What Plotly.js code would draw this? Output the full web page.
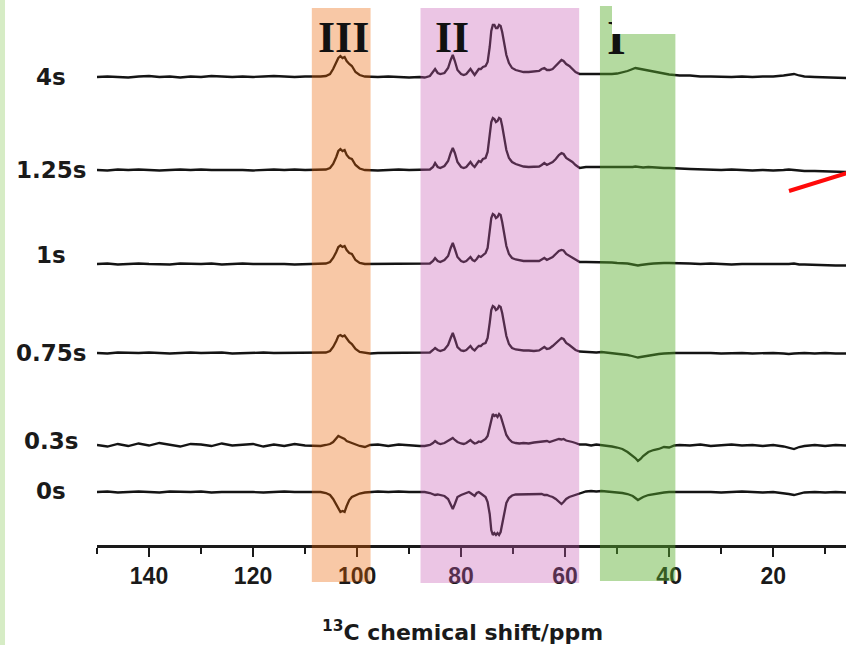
<!DOCTYPE html>
<html>
<head>
<meta charset="utf-8">
<script src="https://cdn.plot.ly/plotly-3.0.1.min.js"></script>
<style>
  html, body { margin: 0; padding: 0; background: #ffffff; }
  #chart { width: 846px; height: 645px; }
</style>
</head>
<body>
<div id="chart"></div>
<script>
// 13C chemical shift grid (ppm), denser where the resonances sit
const shiftPpm = [
  150,148,146,144,142,140,138,136,134,132,130,128,126,124,122,120,118,116,114,112,110,108,
  107,106,105.2,104.6,104,103.6,103.2,102.8,102.4,102,101.5,101,100.3,99.5,98.5,97.5,
  96,94,92,90,88,
  87,86,85.4,85,84.5,84,83.2,82.5,82,81.6,
  81.2,80.7,80,79.5,79,78.5,78.2,77.8,77.4,77,
  76.6,76.2,75.8,75.3,74.9,74.5,74.2,73.9,73.6,73.3,
  73.0,72.7,72.4,72.1,71.7,71.3,70.8,70.2,69.5,68.8,
  68,67,66,65,64.5,64,63.5,63,62.4,61.8,
  61.2,60.7,60.3,59.8,59.2,58.6,58,57.2,
  56,55,54,53,52,51,50,49,48,47.5,47,46.5,46,45.5,45,44,43,42,41,40,39,38,
  36,34,32,30,28,26,24,22,20,18,17,16,15,14,12,10,8,6
];

// contact / delay times, top to bottom
const delays = ['4s', '1.25s', '1s', '0.75s', '0.3s', '0s'];

// signal intensity per delay (arbitrary units)
const spec4s = [
  0,0.5,0,-0.5,0.5,1,0,0.5,-0.5,0.5,0,1,0.5,0,0.5,0,0.5,1,0.5,0,0.5,0,
  0.5,1,3,8,15,19,21,19,20,16,13,11,5,2,0.5,0,
  0,0.5,0,-0.5,0,
  -0.5,1,5,8,4,3,4,9,17,22,
  16,7,3,2,3,6,8,5,2,5,
  8,8,10,11,15,30,46,52,52,49,
  49,52,51,45,32,22,14,9,7,6,
  5,5,5.5,6,8,9,7,7,8,11,
  15,17,16,13,11,8,5,3,
  3,3,2.5,3,3,3,3.5,4.5,6,7,8,9,8.5,8,7,6.5,5,4,3,2.5,2,1.5,
  1.5,0.5,0.5,0,0,0.5,0,0.5,0.5,1.5,2.5,3,1.5,0.5,0,-0.5,-0.5,-1
];
const spec125s = [
  0,-0.5,0.5,0,0.5,0,-0.5,0,0.5,0,0.5,0,0,0.5,0,-0.5,0,0.5,0,0.5,0,0,
  0,0.5,2,6,13,19,21,19,20,15,12,11,5,1.5,0,-0.5,
  -0.5,0,0.5,0,0,
  0,0.5,3,7,3,2,4,9,17,22,
  17,8,3,2,3,6,8,5,3,6,
  9,8,11,12,18,35,48,52,51,48,
  49,52,51,44,30,20,12,8,6,4.5,
  3.5,3,3,3.5,5,7,5,6,8,11,
  15,17,16,12,10,8,5,2,
  3,3,3,2.5,3,3,2.5,3,3,2.5,3,3.5,3,3,2.5,3,2.5,2.5,2,2,2,1.5,
  1,0.5,0.5,0,0.5,0,-0.5,0,-0.5,0,0.5,0,-0.5,-1,-1,-1.5,-1.5,-2
];
const spec1s = [
  0,0.5,-0.5,0,0.5,0,0,-0.5,0.5,0,0,0.5,-0.5,0,0.5,0,0,0.5,0,-0.5,0,0,
  0,0.5,2,6,12,17,18.5,17,18,14,11,10,4,1,0,0,
  0,0.5,0,0,0,
  0,0.5,3,6,3,2,4,8,16,21,
  15,7,3,2,3,6,7,4,3,5,
  8,7,9,11,16,33,46,50,49,46,
  47,50,49,42,28,18,10,6,4.5,3.5,
  3,3,3,3,4.5,6,4,5,7,10,
  13,14,13.5,10,8,6,4,2,
  2,2,1.5,2,1.5,1.5,1,1,0.5,0,-0.5,-1,-1.5,-1,-0.5,0,0.5,1,1,1,1,0.5,
  0.5,0,0.5,0,-0.5,0,0,-0.5,0,-0.5,0,0.5,-0.5,-0.5,-1,-1,-1.5,-1.5
];
const spec075s = [
  0,-0.5,0.5,0,0,0.5,0,-0.5,0,0.5,0,0,0.5,-0.5,0,0,0.5,0,0,0.5,0,0,
  0,0.5,2,6,12,17,18,16.5,17.5,14,11,9,4,1,0,-0.5,
  0,0,0.5,0,0,
  0,0.5,3,5,3,2,3.5,8,15,20,
  14,6,2.5,2,3,5,7,4,2.5,5,
  7,7,9,10,15,30,43,47,46,43,
  44,47,46,40,27,17,9,5,3.5,3,
  2.5,2.5,2,2.5,4,6,4,4.5,7,10,
  13.5,15,14,10,8,5.5,3,1.5,
  1,1,0.5,1,0.5,0,-0.5,-1,-2,-2.5,-3,-3.5,-4.5,-4,-3.5,-2.5,-2,-1,-0.5,0,0,0,
  0,0.5,0,-0.5,0,0,-0.5,0,0,-0.5,-1,-0.5,0,0,-0.5,0,-0.5,-0.5
];
const spec03s = [
  0,-1.5,1,-1,1.5,-0.5,2,0,-1.5,1,0.5,-1,1.5,-0.5,0.5,1,-1.5,0.5,-1,1,-0.5,-1,
  -1,0,1,3,6,9,8,7,6,4,3,2,1,-1,-2,0,
  0.5,-1,0.5,-0.5,-1,
  -1,0,2,4,2,1,2,4,6,7,
  5,3,1.5,1,2,4,5,3,1.5,2,
  3.5,3,4,6,9,18,27,31,29,30,
  28,31,29,24,17,10,6,3,2,1.5,
  2,1.5,2.5,3,4,3.5,4,3,4,5,
  6,5.5,6,4.5,4,3,2,0.5,
  0.5,-0.5,0.5,0,-1,-1.5,-2.5,-4,-7,-9,-11,-13,-16,-14,-11,-7,-5,-4,-2,-2.5,-0.5,0,
  -0.5,0.5,-1,0,0.5,-0.5,0,-1,0,-1.5,-3,-4,-2,-1,0,-1,0,-0.5
];
const spec0s = [
  0,0.5,-0.5,0,0.5,0,-0.5,0.5,0,0,0.5,-0.5,0,0,0.5,0,-0.5,0,0.5,0,0,0.5,
  0,-1,-3,-7,-13,-17,-20,-19,-20,-14,-8,-5,-3,-1.5,-0.5,0,
  0.5,0,0.5,0,0.5,
  0,-1,-2,-3,-2.5,-3,-4,-7,-13,-17,
  -12,-5,-3,-2,-1,0,-1,-3,-4,-1,
  0,-1.5,-3,-5,-10,-22,-38,-43,-41,-43,
  -41,-43,-40,-32,-20,-11,-6,-3.5,-2.5,-2.5,
  -2,-2.5,-2,-2,-2,-3,-3,-4,-5,-7,
  -10,-12,-10,-7,-5,-4,-2.5,-1,
  0.5,1,0.5,1,0.5,0,0,-1,-2,-3,-4,-6,-8,-6.5,-5,-3,-2,-1.5,-0.5,0,0,0.5,
  0,0.5,0,-0.5,0,0.5,0,-0.5,0,-1,-2,-3,-1.5,-0.5,0,-0.5,0,-0.5
];

// carbon regions: label and ppm limits
const regionNames = ['III', 'II', 'I'];
const regionLimits = [[108.7, 97.4], [87.8, 57.3], [53.3, 38.8]];

const spectra = [spec4s, spec125s, spec1s, spec075s, spec03s, spec0s];

// ---- layout constants ----
const stackBase = [468, 375, 281, 192, 100, 53];   // vertical offset of each trace
const labelLift = [0, 0, 9, 0, 4, 1];               // nudge of the delay labels
const regionFill = ['rgba(235,98,0,0.35)', 'rgba(198,88,178,0.35)', 'rgba(88,173,44,0.45)'];
const regionTop = [0.9853, 0.9853, 0.989];
const regionBottom = [-0.0679, -0.0697, -0.066];
const numeralX = [102.7, 81.7, 50.2];
const numeralY = [0.9312, 0.9312, 0.932];
const numeralSize = [44, 44, 48];

const traces = spectra.map((s, i) => ({
  type: 'scatter',
  mode: 'lines',
  x: shiftPpm,
  y: s.map(v => v + stackBase[i]),
  line: { color: '#141414', width: 2.3 },
  hoverinfo: 'skip',
  name: delays[i]
}));

const shapes = [];
// light strip on the left edge
shapes.push({ type: 'rect', xref: 'paper', yref: 'paper', x0: -0.1295, x1: -0.1228, y0: -0.19, y1: 1.01,
  fillcolor: '#d6ecc5', line: { width: 0 }, layer: 'below' });
regionLimits.forEach((lim, i) => {
  shapes.push({ type: 'rect', xref: 'x', yref: 'paper', x0: lim[0], x1: lim[1],
    y0: regionBottom[i], y1: regionTop[i], fillcolor: regionFill[i], line: { width: 0 }, layer: 'above' });
});
// red pointer at the right
shapes.push({ type: 'line', xref: 'paper', yref: 'paper', x0: 0.9239, y0: 0.6495, x1: 1.01, y1: 0.686,
  line: { color: '#ff0a0a', width: 4 }, layer: 'above' });

const annotations = [];
delays.forEach((d, i) => {
  annotations.push({ text: d, xref: 'paper', yref: 'y', x: -0.0614, y: stackBase[i] + labelLift[i],
    xanchor: 'center', yanchor: 'middle', showarrow: false,
    font: { family: 'DejaVu Sans, Arial, sans-serif', size: 23, color: '#1a1a1a', weight: 'bold' } });
});
regionNames.forEach((r, i) => {
  annotations.push({ text: r, xref: 'x', yref: 'paper', x: numeralX[i], y: numeralY[i],
    xanchor: 'center', yanchor: 'middle', showarrow: false,
    font: { family: 'Liberation Serif, Times New Roman, serif', size: numeralSize[i], color: '#111111', weight: 'bold' } });
});
annotations.push({ text: '<sup>13</sup>C chemical shift/ppm', xref: 'paper', yref: 'paper',
  x: 0.488, y: -0.158, xanchor: 'center', yanchor: 'middle', showarrow: false,
  font: { family: 'DejaVu Sans, Arial, sans-serif', size: 22, color: '#1a1a1a', weight: 'bold' } });
// blank patch across the top right
annotations.push({ text: ' ', xref: 'paper', yref: 'paper', x: 0.6876, y: 1.0,
  xanchor: 'left', yanchor: 'top', showarrow: false, width: 240, height: 34,
  bgcolor: '#ffffff', borderpad: 0, borderwidth: 0 });

const layout = {
  width: 846, height: 645,
  margin: { l: 97, r: 0, t: 0, b: 100 },
  paper_bgcolor: '#ffffff', plot_bgcolor: 'rgba(0,0,0,0)',
  showlegend: false,
  xaxis: {
    range: [150, 6], autorange: false, fixedrange: true,
    showgrid: false, zeroline: false,
    showline: true, linecolor: '#1a1a1a', linewidth: 2.5,
    ticks: 'outside', ticklen: 9, tickwidth: 2.5, tickcolor: '#1a1a1a',
    tick0: 0, dtick: 20, ticklabelstandoff: 0,
    minor: { tick0: 0, dtick: 10, ticks: 'outside', ticklen: 6, tickwidth: 2, tickcolor: '#1a1a1a' },
    tickfont: { family: 'Liberation Sans, Arial, sans-serif', size: 23, color: '#1a1a1a', weight: 'bold' }
  },
  yaxis: { range: [0, 545], visible: false, fixedrange: true },
  shapes: shapes,
  annotations: annotations
};

Plotly.newPlot('chart', traces, layout, { staticPlot: true, displayModeBar: false });
</script>
</body>
</html>
